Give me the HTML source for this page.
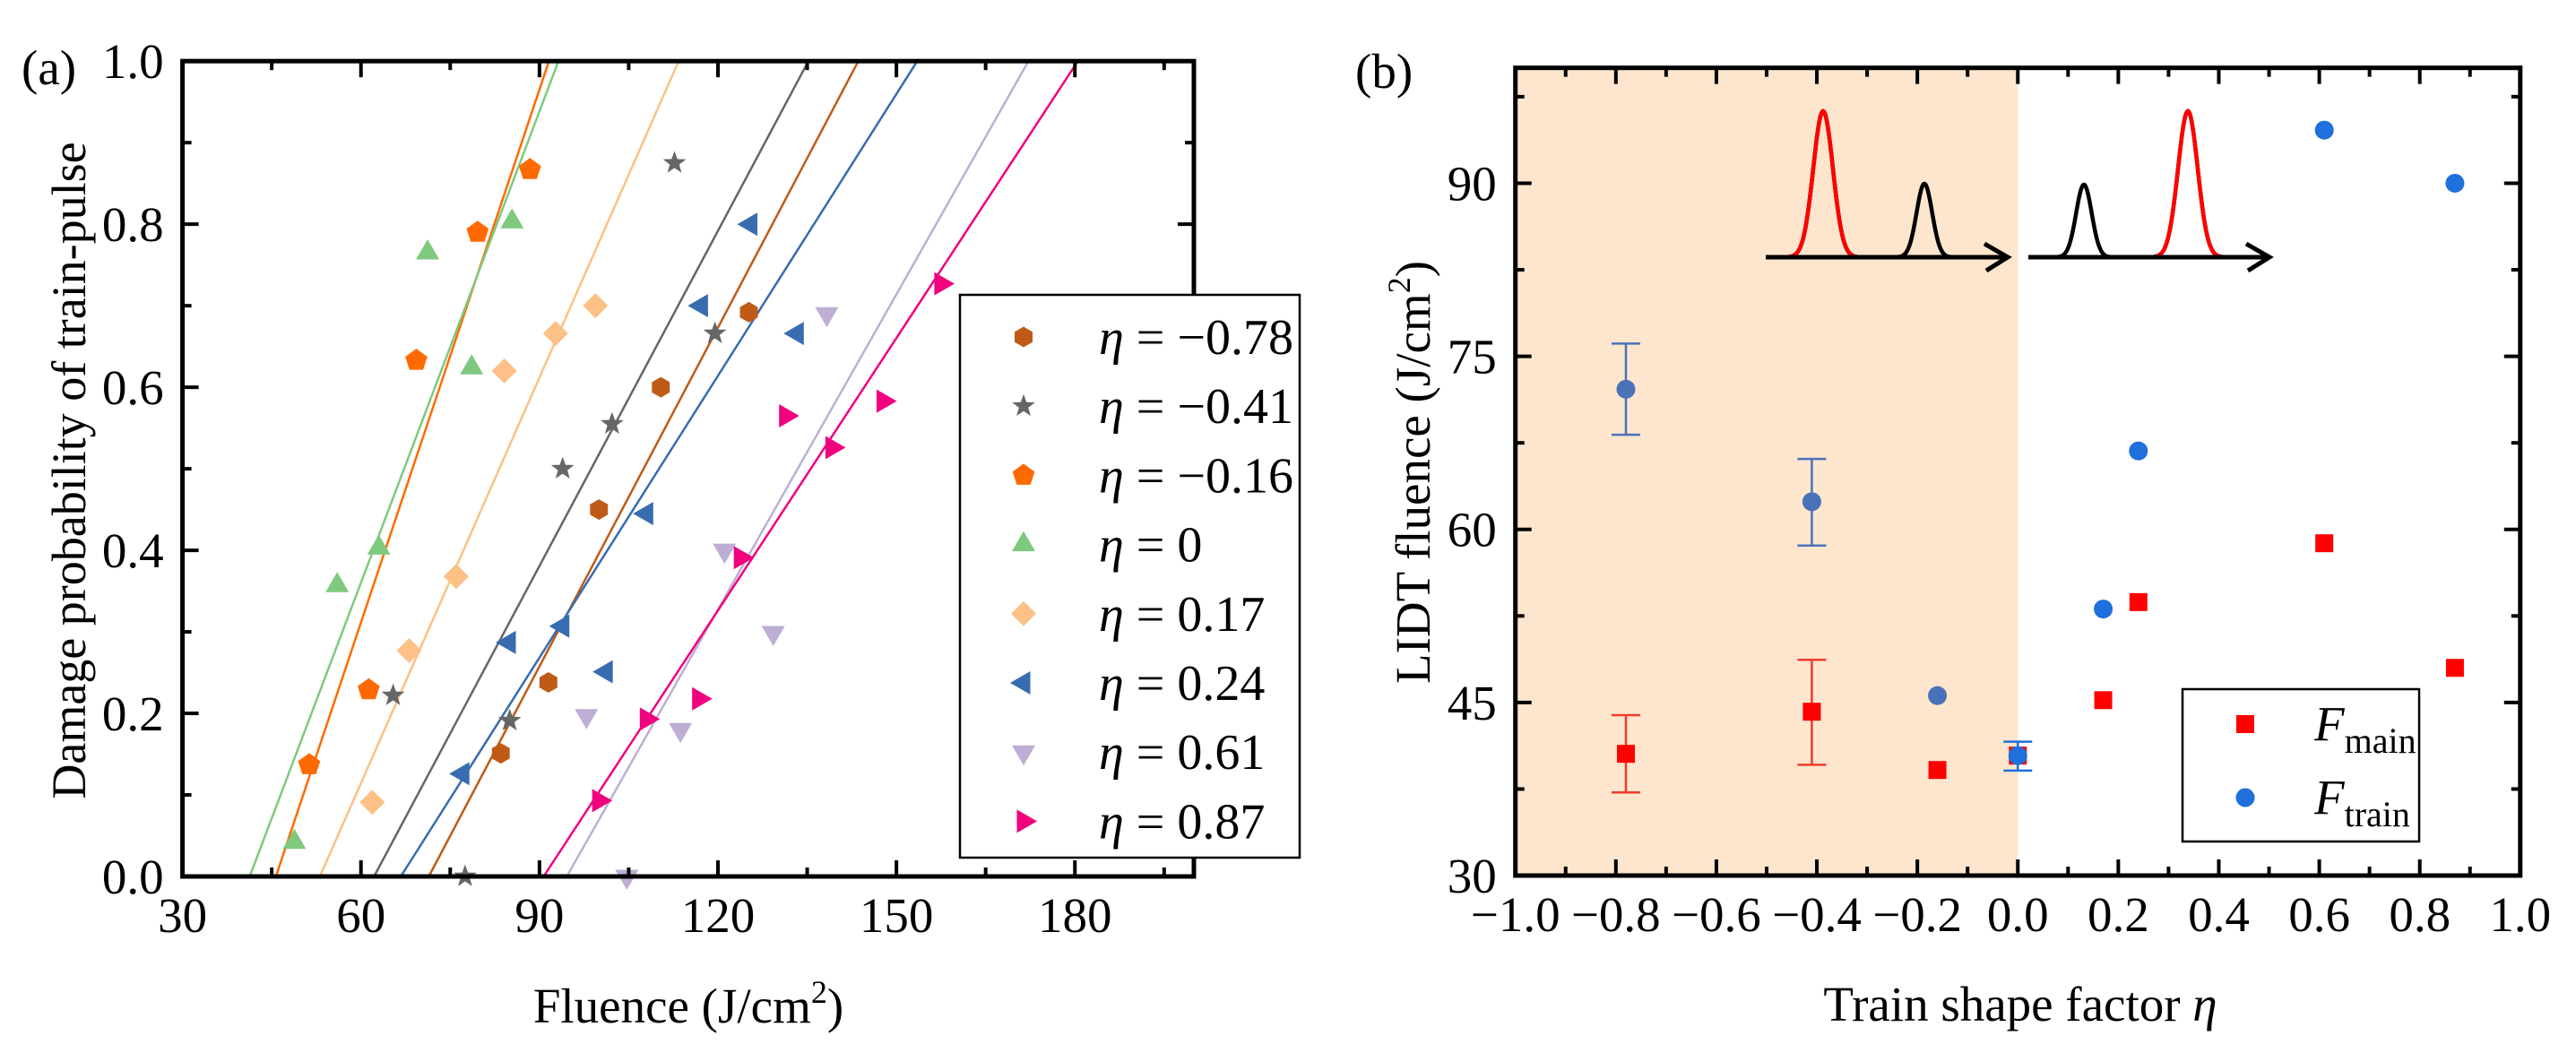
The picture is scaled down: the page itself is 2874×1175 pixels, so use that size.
<!DOCTYPE html>
<html><head><meta charset="utf-8"><style>
html,body{margin:0;padding:0;background:#fff}
svg{display:block}
svg text{font-family:"Liberation Serif","DejaVu Serif",serif !important;fill:#000}
</style></head><body>
<svg id="fig" width="2874" height="1175" viewBox="0 0 2874 1175" xmlns="http://www.w3.org/2000/svg" font-family="Liberation Serif, serif">
<g id="pa"></g>
<g id="pb"></g>
</svg>
<script>
// ---------- Panel (a) data ----------
const aLabels = ["η = −0.78","η = −0.41","η = −0.16","η = 0","η = 0.17","η = 0.24","η = 0.61","η = 0.87"];
const aColors = ["#bf5b17","#666666","#ff6a00","#7fc97f","#fdc086","#386cb0","#beaed4","#f0027f"];
const aShapes = ["hex","star","pent","up","diamond","left","down","right"];
const aX = [
 [83.5,91.5,100,110.4,125.2],
 [65.4,85,93.9,102.2,119.5,112.7,77.5],
 [51.3,61.3,69.3,79.6,88.4],
 [48.8,56,63,71.2,78.6,85.4],
 [61.9,68.1,76,84.1,92.7,99.4],
 [77.1,84.9,93.9,101.2,108,117.2,125.5,133.3],
 [97.9,104.7,113.7,121.1,129.3,138.3],
 [100,108,116.8,123.8,131.4,139.2,147.8,157.5]
];
const aY = [
 [0.151,0.238,0.45,0.6,0.692],
 [0.222,0.191,0.5,0.555,0.666,0.875,0],
 [0.137,0.229,0.633,0.79,0.867],
 [0.042,0.357,0.403,0.765,0.624,0.803],
 [0.091,0.277,0.368,0.62,0.666,0.7],
 [0.126,0.287,0.307,0.251,0.445,0.7,0.8,0.666],
 [0.197,0,0.18,0.4,0.299,0.69],
 [0.093,0.193,0.218,0.391,0.565,0.526,0.583,0.727]
];
const aFitAt0 = [71.4,62.2,45.7,41.3,53.1,66.7,94.6,90.7];
const aFitAt1 = [143.6,135.2,91.6,93.2,113.4,153.5,172.2,180.5];
const aXTicks = [30,60,90,120,150,180];
const aXTickLabels = ["30","60","90","120","150","180"];
const aYTicks = [0,0.2,0.4,0.6,0.8,1.0];
const aYTickLabels = ["0.0","0.2","0.4","0.6","0.8","1.0"];

// ---------- Panel (b) data ----------
const bEta = [-0.78,-0.41,-0.16,0,0.17,0.24,0.61,0.87];
const bMain = [40.55,44.2,39.15,40.4,45.2,53.7,58.8,48];
const bMainErrLo = [37.2,39.6,null,null,null,null,null,null];
const bMainErrHi = [43.9,48.7,null,null,null,null,null,null];
const bTrain = [72.15,62.4,45.6,40.4,53.1,66.8,94.6,90];
const bTrainErrLo = [68.2,58.6,null,39.1,null,null,null,null];
const bTrainErrHi = [76.1,66.1,null,41.6,null,null,null,null];
const bXTicks = [-1,-0.8,-0.6,-0.4,-0.2,0,0.2,0.4,0.6,0.8,1.0];
const bXTickLabels = ["−1.0","−0.8","−0.6","−0.4","−0.2","0.0","0.2","0.4","0.6","0.8","1.0"];
const bYTicks = [30,45,60,75,90];
const bYTickLabels = ["30","45","60","75","90"];

const NS="http://www.w3.org/2000/svg";
const FONT='"Liberation Serif", serif';
function mk(tag,parent,attrs){const e=document.createElementNS(NS,tag);for(const k in attrs)e.setAttribute(k,attrs[k]);if(tag==="text")e.style.fontFamily=FONT;parent.appendChild(e);return e;}

const A={l:203.6,r:1332,t:68.2,b:978,x0:30,x1:200};
const xa=v=>A.l+(v-A.x0)*(A.r-A.l)/(A.x1-A.x0);
const ya=p=>A.b-p*(A.b-A.t);
const B={l:1690.7,r:2811.8,t:75.7,b:977,x0:-1,x1:1,y0:30,y1:100};
const xb=v=>B.l+(v-B.x0)*(B.r-B.l)/(B.x1-B.x0);
const yb=v=>B.b-(v-B.y0)*(B.b-B.t)/(B.y1-B.y0);

function shapePath(s,x,y){
  const pts=(n,r,rot)=>{let a=[];for(let i=0;i<n;i++){const t=rot+i*2*Math.PI/n;a.push((x+r*Math.cos(t)).toFixed(1)+","+(y+r*Math.sin(t)).toFixed(1));}return "M"+a.join("L")+"Z";};
  switch(s){
    case "hex": return pts(6,11.5,-Math.PI/2);
    case "pent": return pts(5,13,-Math.PI/2);
    case "up": return pts(3,15,-Math.PI/2);
    case "down": return pts(3,15,Math.PI/2);
    case "left": return pts(3,15,Math.PI);
    case "right": return pts(3,15,0);
    case "diamond": return pts(4,14,-Math.PI/2);
    case "star": {let a=[];for(let i=0;i<10;i++){const r=i%2?5.5:13.5;const t=-Math.PI/2+i*Math.PI/5;a.push((x+r*Math.cos(t)).toFixed(1)+","+(y+r*Math.sin(t)).toFixed(1));}return "M"+a.join("L")+"Z";}
  }
}

function frame(g,P,xt,xtl,xminor,yt,ytl,yminor,xs,ys,nameP){
  const tk=mk("g",g,{stroke:"#000","stroke-width":4});
  
  
  xt.forEach(v=>{const x=xs(v);mk("line",tk,{x1:x,x2:x,y1:P.b,y2:P.b-18});mk("line",tk,{x1:x,x2:x,y1:P.t,y2:P.t+18});});
  xminor.forEach(v=>{const x=xs(v);mk("line",tk,{x1:x,x2:x,y1:P.b,y2:P.b-10});mk("line",tk,{x1:x,x2:x,y1:P.t,y2:P.t+10});});
  yt.forEach(v=>{const y=ys(v);mk("line",tk,{x1:P.l,x2:P.l+18,y1:y,y2:y});mk("line",tk,{x1:P.r,x2:P.r-18,y1:y,y2:y});});
  yminor.forEach(v=>{const y=ys(v);mk("line",tk,{x1:P.l,x2:P.l+10,y1:y,y2:y});mk("line",tk,{x1:P.r,x2:P.r-10,y1:y,y2:y});});
  const bx=mk("rect",g,{x:P.l,y:P.t,width:P.r-P.l,height:P.b-P.t,fill:"none",stroke:"#000","stroke-width":5});
  
  
  xt.forEach((v,i)=>{const t=mk("text",g,{x:xs(v),y:P.b+62,"font-size":55,"text-anchor":"middle"});t.textContent=xtl[i];
    
    });
  yt.forEach((v,i)=>{const t=mk("text",g,{x:P.l-21,y:ys(v)+19,"font-size":55,"text-anchor":"end"});t.textContent=ytl[i];
    
    });
}

// ================= Panel A =================
const ga=document.getElementById("pa");
aFitAt0.forEach((f0,i)=>{
  const l=mk("line",ga,{x1:xa(f0),y1:ya(0),x2:xa(aFitAt1[i]),y2:ya(1),stroke:aColors[i],"stroke-width":2.5});
  
  
});
aX.forEach((arr,i)=>{
  arr.forEach((v,j)=>{
    const p=mk("path",ga,{d:shapePath(aShapes[i],xa(v),ya(aY[i][j])),fill:aColors[i]});
    
    
  });
});
frame(ga,A,aXTicks,aXTickLabels,[45,75,105,135,165,195],aYTicks,aYTickLabels,[0.1,0.3,0.5,0.7,0.9],xa,ya,"a");
const la=mk("g",ga,{});


mk("rect",la,{x:1071,y:329,width:379,height:628,fill:"#fff",stroke:"#000","stroke-width":2.5});
aLabels.forEach((s,i)=>{
  const y=376+i*77.2;
  const e=mk("g",la,{});
  
  
  mk("path",e,{d:shapePath(aShapes[i],1142,y),fill:aColors[i]});
  const t=mk("text",e,{x:1226,y:y+19,"font-size":56});
  const parts=s.split("η");
  const ts=mk("tspan",t,{"font-style":"italic"});ts.textContent="η";
  const t2=mk("tspan",t,{});t2.textContent=parts[1];
});
let t=mk("text",ga,{x:768,y:1141,"font-size":55,"text-anchor":"middle"});


t.innerHTML='Fluence (J/cm<tspan dy="-22" font-size="36">2</tspan><tspan dy="22">)</tspan>';
t=mk("text",ga,{x:0,y:0,"font-size":54,"text-anchor":"middle",transform:"translate(95,525) rotate(-90)"});


t.textContent="Damage probability of train-pulse";
t=mk("text",ga,{x:24,y:94,"font-size":55});


t.textContent="(a)";

// ================= Panel B =================
const gb=document.getElementById("pb");
const sh=mk("rect",gb,{x:B.l,y:B.t,width:xb(0)-B.l,height:B.b-B.t,fill:"#fde6cd"});


const base=287;
function gauss(g,xs,xe,peaks,redRange){
  let d="";for(let x=xs;x<=xe;x+=1){let y=base;peaks.forEach(p=>{y-=p.a*Math.exp(-((x-p.c)**2)/(2*p.s*p.s));});d+=(d?"L":"M")+x+","+y.toFixed(1);}
  mk("path",g,{d:d,fill:"none",stroke:"#000","stroke-width":4.5});
  let d2="";for(let x=redRange[0];x<=redRange[1];x+=1){let y=base;peaks.forEach(p=>{y-=p.a*Math.exp(-((x-p.c)**2)/(2*p.s*p.s));});d2+=(d2?"L":"M")+x+","+y.toFixed(1);}
  mk("path",g,{d:d2,fill:"none",stroke:"#ff0000","stroke-width":4.5});
}
const ins=mk("g",gb,{});


gauss(ins,1982,2180,[{c:2034,a:163,s:11},{c:2147,a:82,s:8.7}],[1982,2081]);
mk("line",ins,{x1:1970,y1:base,x2:2239,y2:base,stroke:"#000","stroke-width":5});
mk("path",ins,{d:"M2214,272L2240,287L2216,302",fill:"none",stroke:"#000","stroke-width":5});
gauss(ins,2279,2489,[{c:2325,a:81,s:8.7},{c:2441,a:163,s:11}],[2391,2489]);
mk("line",ins,{x1:2263,y1:base,x2:2531,y2:base,stroke:"#000","stroke-width":5});
mk("path",ins,{d:"M2506,272L2532,287L2508,302",fill:"none",stroke:"#000","stroke-width":5});

function errbar(x,lo,hi,col,name){
  const g=mk("g",gb,{stroke:col,"stroke-width":2.5});
  
  
  mk("line",g,{x1:x,x2:x,y1:yb(lo),y2:yb(hi)});
  mk("line",g,{x1:x-16,x2:x+16,y1:yb(lo),y2:yb(lo)});
  mk("line",g,{x1:x-16,x2:x+16,y1:yb(hi),y2:yb(hi)});
}
bEta.forEach((e,i)=>{
  if(bMainErrLo[i]!==null) errbar(xb(e),bMainErrLo[i],bMainErrHi[i],"#f03c2c",'error-bar-main');
  if(bTrainErrLo[i]!==null) errbar(xb(e),bTrainErrLo[i],bTrainErrHi[i],e<0?"#4a72b8":"#1f6fdc",'error-bar-train');
});
bEta.forEach((e,i)=>{
  const r=mk("rect",gb,{x:xb(e)-10,y:yb(bMain[i])-10,width:20,height:20,fill:"#ff0000"});
  
  
});
bEta.forEach((e,i)=>{
  const c=mk("circle",gb,{cx:xb(e),cy:yb(bTrain[i]),r:10.5,fill:e<0?"#4a72b8":"#1f6fdc"});
  
  
});
frame(gb,B,bXTicks,bXTickLabels,[-0.9,-0.7,-0.5,-0.3,-0.1,0.1,0.3,0.5,0.7,0.9],bYTicks,bYTickLabels,[37.5,52.5,67.5,82.5,97.5],xb,yb,"b");
const lb=mk("g",gb,{});


mk("rect",lb,{x:2435,y:769,width:264,height:170,fill:"#fff",stroke:"#000","stroke-width":2.5});
mk("rect",lb,{x:2495,y:798,width:20,height:20,fill:"#ff0000"});
mk("circle",lb,{cx:2505,cy:890,r:10.5,fill:"#1f6fdc"});
t=mk("text",lb,{x:2582,y:826,"font-size":55});


t.innerHTML='<tspan font-style="italic">F</tspan><tspan dy="14" font-size="40">main</tspan>';
t=mk("text",lb,{x:2582,y:908,"font-size":55});


t.innerHTML='<tspan font-style="italic">F</tspan><tspan dy="14" font-size="40">train</tspan>';
t=mk("text",gb,{x:2254,y:1139,"font-size":55,"text-anchor":"middle"});


t.innerHTML='Train shape factor <tspan font-style="italic">η</tspan>';
t=mk("text",gb,{x:0,y:0,"font-size":55,"text-anchor":"middle",transform:"translate(1595,527) rotate(-90)"});


t.innerHTML='LIDT fluence (J/cm<tspan dy="-22" font-size="36">2</tspan><tspan dy="22">)</tspan>';
t=mk("text",gb,{x:1512,y:98,"font-size":55});


t.textContent="(b)";
</script>
</body></html>
